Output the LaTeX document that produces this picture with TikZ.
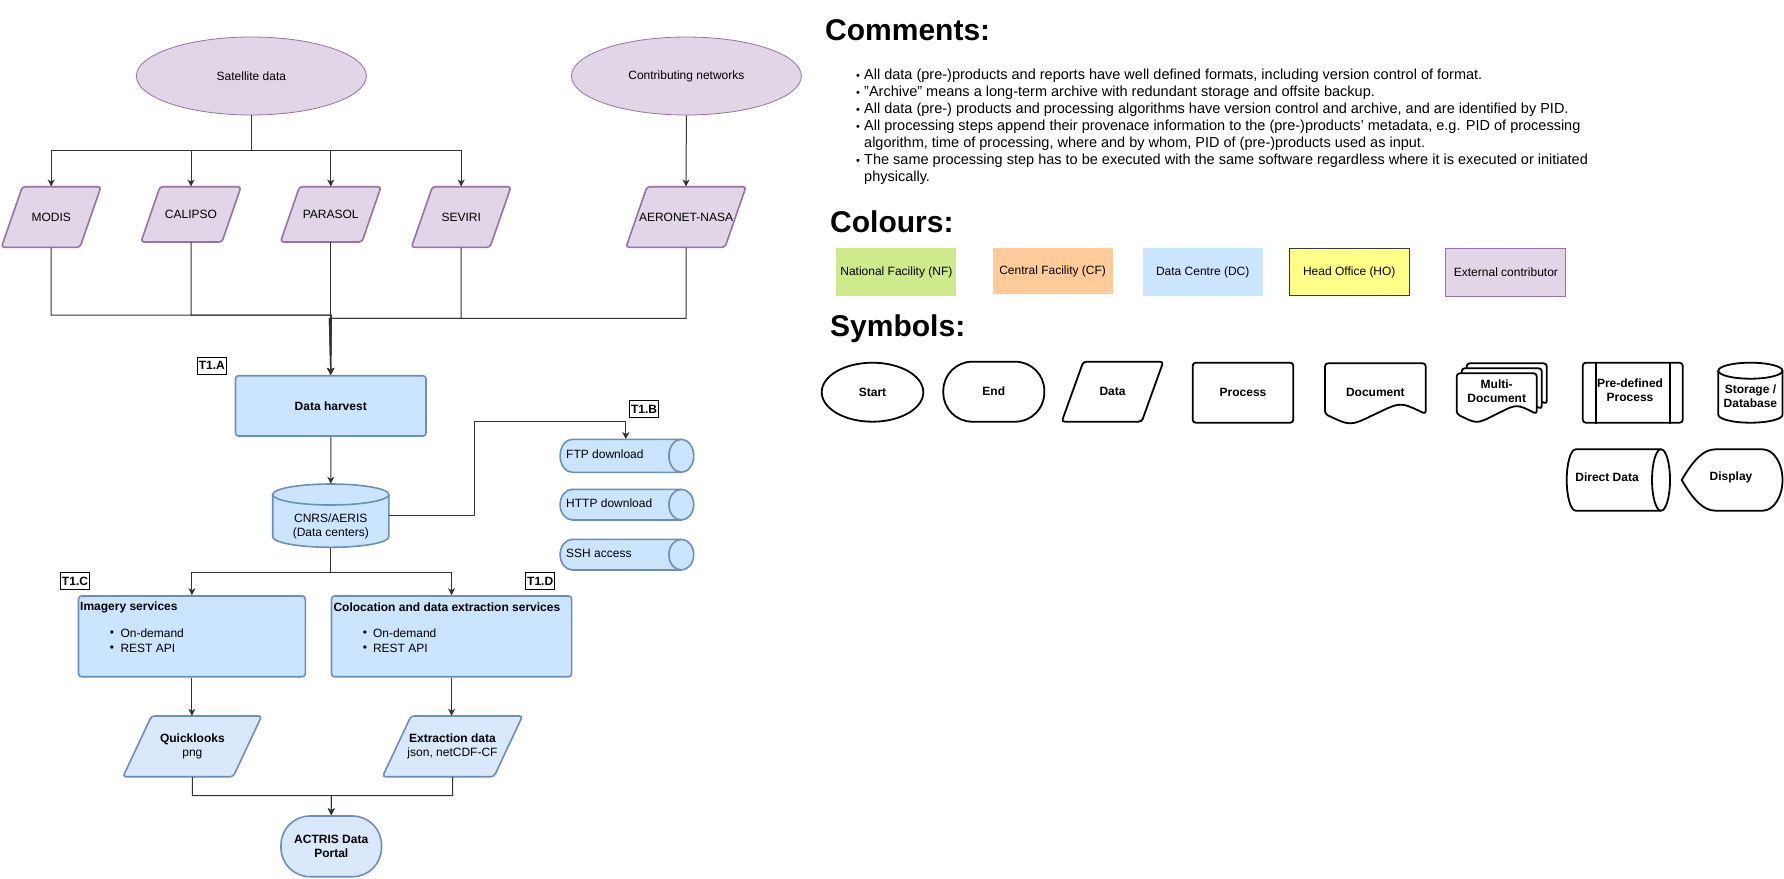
\documentclass[tikz,border=0pt]{standalone}
\usepackage{fontspec}
\setmainfont{Liberation Sans}
\usetikzlibrary{shapes.geometric,arrows.meta,calc}
\definecolor{purfill}{HTML}{E1D5E7}
\definecolor{purline}{HTML}{9673A6}
\definecolor{bluefill}{HTML}{CCE5FF}
\definecolor{bluefillb}{HTML}{DAE8FC}
\definecolor{blueline}{HTML}{6C8EBF}
\definecolor{nfgreen}{HTML}{CDEB8B}
\definecolor{cforange}{HTML}{FFCC99}
\definecolor{hoyellow}{HTML}{FFFF88}
\definecolor{hoedge}{HTML}{36393D}
% parallelogram: style, x0, y0, x1, y1, slant
\newcommand\shpPgram[6]{\path[#1] ({#2+#6},#3) -- (#4,#3) -- ({#4-#6},#5) -- (#2,#5) -- cycle;}
% vertical cylinder: style, x0, y0, x1, y1, rx, ry
\newcommand\shpCylV[7]{%
 \path[#1] (#2,{#3+#7}) -- (#2,{#5-#7}) arc[start angle=180,end angle=0,x radius=#6,y radius=#7] -- (#4,{#3+#7}) arc[start angle=0,end angle=-180,x radius=#6,y radius=#7] -- cycle;
 \path[#1,fill=none] (#2,{#3+#7}) arc[start angle=180,end angle=0,x radius=#6,y radius=#7];}
% horizontal cylinder: style, x0, y0, x1, y1, rx, ry
\newcommand\shpCylH[7]{%
 \path[#1] ({#2+#6},#3) -- ({#4-#6},#3) arc[start angle=-90,end angle=90,x radius=#6,y radius=#7] -- ({#2+#6},#5) arc[start angle=90,end angle=270,x radius=#6,y radius=#7] -- cycle;
 \path[#1,fill=none] ({#4-#6},#3) arc[start angle=-90,end angle=-270,x radius=#6,y radius=#7];}
% document: style, x0, y0, x1, yend, amplitude
\newcommand\shpDoc[6]{\path[#1] (#2,#3) -- (#4,#3) -- (#4,#5) .. controls ({#2+0.75*(#4-#2)},{#5-2*#6}) .. ({(#2+#4)/2},#5) .. controls ({#2+0.25*(#4-#2)},{#5+2*#6}) .. (#2,#5) -- cycle;}
% display: style, x0, y0, x1, y1, rx, ry
\newcommand\shpDisp[7]{\path[#1] (#2,{(#3+#5)/2}) .. controls ({#2+12},{#3+10}) and ({#2+22},#3) .. ({#2+34},#3) -- ({#4-#6},#3) arc[start angle=-90,end angle=90,x radius=#6,y radius=#7] -- ({#2+34},#5) .. controls ({#2+22},#5) and ({#2+12},{#5-10}) .. (#2,{(#3+#5)/2}) -- cycle;}
\begin{document}
\begin{tikzpicture}[x=1pt,y=-1pt,
  txt/.style={font=\fontsize{12}{14}\selectfont, inner sep=0pt, align=center},
  conn/.style={draw=black!80, line width=1pt, -{Stealth[length=7pt,width=7pt,inset=2pt]}},
  pshape/.style={draw=purline, fill=purfill, line width=1.6pt, rounded corners=3pt},
  pshapeb/.style={draw=blueline, fill=bluefillb, line width=1.6pt, rounded corners=3pt},
  cylshape/.style={draw=blueline, fill=bluefill, line width=1.6pt},
  bbox/.style={txt, draw=blueline, fill=bluefill, line width=1.6pt, rounded corners=3pt},
  bboxb/.style={txt, draw=blueline, fill=bluefillb, line width=1.6pt},
  ell/.style={txt, ellipse, draw=purline, fill=purfill, line width=0.8pt},
  tlab/.style={draw=black, fill=white, line width=0.8pt, inner sep=0pt, font=\fontsize{12}{14}\selectfont\bfseries, minimum width=29pt, minimum height=17pt},
  lbul/.style={font=\fontsize{12}{14}\selectfont, inner sep=0pt},
  ltext/.style={txt, anchor=west},
  head/.style={font=\fontsize{30}{36}\selectfont\bfseries, inner sep=0pt, anchor=base west},
  ctext/.style={font=\fontsize{14.5}{17}\selectfont, inner sep=0pt, anchor=base west},
  cbul/.style={font=\fontsize{11}{13}\selectfont, inner sep=0pt, anchor=base},
  cbox/.style={txt, minimum width=120pt},
  symshape/.style={draw=black, fill=white, line width=1.8pt, rounded corners=3pt},
  symcyl/.style={draw=black, fill=white, line width=1.8pt},
  symb/.style={txt, font=\fontsize{12}{14}\selectfont\bfseries, draw=black, fill=white, line width=1.8pt},
  symt/.style={txt, font=\fontsize{12}{14}\selectfont\bfseries},
]
\fill[white] (0,0) rectangle (1784,878);
\useasboundingbox (0,0) rectangle (1784,878);

% ---------- shapes drawn directly ----------
\shpPgram{pshape}{1.4}{186.7}{101}{247.3}{21}
\shpPgram{pshape}{141}{186.7}{241}{242}{19}
\shpPgram{pshape}{280.5}{186.7}{381}{242}{19}
\shpPgram{pshape}{411.4}{186.7}{511}{247.3}{21}
\shpPgram{pshape}{626}{186.7}{746}{247.3}{21}
\shpCylV{cylshape}{272.7}{484}{388.9}{547.3}{58.1}{10.5}
\shpCylH{cylshape}{560.1}{439.3}{693.7}{472.3}{12.4}{16.5}
\shpCylH{cylshape}{560.1}{489.3}{693.7}{520}{12.4}{15.35}
\shpCylH{cylshape}{560.1}{539.3}{693.7}{570}{12.4}{15.35}
\shpPgram{pshapeb}{123}{716}{261.7}{776.7}{28.5}
\shpPgram{pshapeb}{382.5}{716}{522.5}{776.7}{28.5}

% ---------- left flowchart nodes ----------
\node[ell, minimum width=230pt, minimum height=78pt] (sat) at (251.4,76) {Satellite data};
\node[ell, minimum width=230pt, minimum height=78pt] (contrib) at (686.4,76) {Contributing networks};
\node[txt, minimum width=99.6pt, minimum height=60.6pt] (modis) at (51.2,217) {MODIS};
\node[txt, minimum width=100pt, minimum height=55.3pt] (calipso) at (191,214.35) {CALIPSO};
\node[txt, minimum width=100.5pt, minimum height=55.3pt] (parasol) at (330.75,214.35) {PARASOL};
\node[txt, minimum width=99.6pt, minimum height=60.6pt] (seviri) at (461.2,217) {SEVIRI};
\node[txt, minimum width=120pt, minimum height=60.6pt] (aeronet) at (686,217) {AERONET-NASA};

\node[tlab] (t1a) at (211.9,365.8) {T1.A};
\node[bbox, minimum width=190.5pt, minimum height=60.3pt] (dh) at (330.75,405.85) {\bfseries Data harvest};

\node[txt, minimum width=116.2pt, minimum height=63.3pt] (cnrs) at (330.8,515.65) {};
\node[txt] (cnrstxt) at (330.8,526.3) {CNRS/AERIS\\(Data centers)};

\node[tlab] (t1b) at (644,409) {T1.B};
\node[txt, minimum width=133.6pt, minimum height=33pt] (ftp) at (626.9,455.8) {};
\node[ltext] (ftptxt) at (566,454) {FTP download};
\node[txt, minimum width=133.6pt, minimum height=30.7pt] (http) at (626.9,504.65) {};
\node[ltext] (httptxt) at (566,503) {HTTP download};
\node[txt, minimum width=133.6pt, minimum height=30.7pt] (ssh) at (626.9,554.65) {};
\node[ltext] (sshtxt) at (566,553) {SSH access};

\node[tlab] (t1c) at (75,581) {T1.C};
\node[tlab] (t1d) at (540.2,581) {T1.D};
\node[bbox, minimum width=226.8pt, minimum height=80.7pt] (img) at (191.9,636.35) {};
\node[ltext, font=\fontsize{12}{14}\selectfont\bfseries] (imgt) at (80,607.3) {Imagery services};
\node[lbul] (imgb1) at (112,633.7) {•};
\node[ltext] (imgo1) at (120.3,633.7) {On-demand};
\node[lbul] (imgb2) at (112,648.7) {•};
\node[ltext] (imgo2) at (120.3,648.7) {REST API};
\node[bbox, minimum width=240.1pt, minimum height=80.7pt] (col) at (451.55,636.35) {};
\node[ltext, font=\fontsize{12}{14}\selectfont\bfseries] (colt) at (333.3,607.3) {Colocation and data extraction services};
\node[lbul] (colb1) at (365,633.7) {•};
\node[ltext] (colo1) at (372.8,633.7) {On-demand};
\node[lbul] (colb2) at (365,648.7) {•};
\node[ltext] (colo2) at (372.8,648.7) {REST API};

\node[txt, minimum width=138.7pt, minimum height=60.7pt] (ql) at (192.35,746.35) {\textbf{Quicklooks}\\png};
\node[txt, minimum width=140pt, minimum height=60.7pt] (ex) at (452.5,746.35) {\textbf{Extraction data}\\json, netCDF-CF};
\node[bboxb, rounded corners=29pt, minimum width=100.5pt, minimum height=60.7pt] (actris) at (331.25,846.35) {\textbf{ACTRIS Data}\\\textbf{Portal}};

% ---------- connectors ----------
\coordinate (jl) at (331.5,315);
\coordinate (jr) at (329.3,318.3);
\coordinate (c2) at (625.8,421);
\coordinate (jb) at (331.5,795.7);
\draw[conn] (sat.south) -- ++(0,35) -| (modis.north);
\draw[conn] (sat.south) -- ++(0,35) -| (calipso.north);
\draw[conn] (sat.south) -- ++(0,35) -| (parasol.north);
\draw[conn] (sat.south) -- ++(0,35) -| (seviri.north);
\draw[conn] (contrib.south) -- (aeronet.north);
\draw[conn] (modis.south) |- (jl) -- (dh.north);
\draw[conn] (calipso.south) |- (jl) -- (dh.north);
\draw[conn] (parasol.south) -- (dh.north);
\draw[conn] (seviri.south) |- (jr) -- (dh.north);
\draw[conn] (aeronet.south) |- (jr) -- (dh.north);
\draw[conn] (dh.south) -- (cnrs.north);
\draw[conn] (cnrs.east) -- ++(85.4,0) |- (c2) -- (c2 |- ftp.north);
\draw[conn] (cnrs.south) -- ++(0,25.4) -| (img.north);
\draw[conn] (cnrs.south) -- ++(0,25.4) -| (col.north);
\draw[conn] (img.south) -- (img.south |- ql.north);
\draw[conn] (col.south) -- (col.south |- ex.north);
\draw[conn] (ql.south) |- (jb) -- (actris.north);
\draw[conn] (ex.south) |- (jb) -- (actris.north);

% ---------- comments ----------
\node[head] (hcom) at (825,40.7) {Comments:};
\node[cbul] (cb1) at (858,79.5) {•};
\node[ctext] (cm1) at (864,79.5) {All data (pre-)products and reports have well defined formats, including version control of format.};
\node[cbul] (cb2) at (858,96.5) {•};
\node[ctext] (cm2) at (864,96.5) {"Archive" means a long-term archive with redundant storage and offsite backup.};
\node[cbul] (cb3) at (858,113.5) {•};
\node[ctext] (cm3) at (864,113.5) {All data (pre-) products and processing algorithms have version control and archive, and are identified by PID.};
\node[cbul] (cb4) at (858,130.5) {•};
\node[ctext] (cm4) at (864,130.5) {All processing steps append their provenace information to the (pre-)products' metadata, e.g. PID of processing};
\node[ctext] (cm5) at (864,147.5) {algorithm, time of processing, where and by whom, PID of (pre-)products used as input.};
\node[cbul] (cb6) at (858,164.5) {•};
\node[ctext] (cm6) at (864,164.5) {The same processing step has to be executed with the same software regardless where it is executed or initiated};
\node[ctext] (cm7) at (864,181.5) {physically.};

% ---------- colours ----------
\node[head] (hcol) at (830,232.3) {Colours:};
\node[cbox, fill=nfgreen, minimum height=47.7pt] (cnf) at (896.35,272.15) {National Facility (NF)};
\node[cbox, fill=cforange, minimum height=45.7pt] (ccf) at (1052.65,271.15) {Central Facility (CF)};
\node[cbox, fill=bluefill, minimum height=47.7pt] (cdc) at (1202.7,272.15) {Data Centre (DC)};
\node[cbox, fill=hoyellow, draw=hoedge, line width=0.9pt, minimum height=47pt] (cho) at (1349.25,272.2) {Head Office (HO)};
\node[cbox, fill=purfill, draw=purline, line width=0.9pt, minimum height=48pt] (cext) at (1505.9,272.7) {External contributor};

% ---------- symbols ----------
\node[head] (hsym) at (830,336.7) {Symbols:};
\shpPgram{symshape}{1061.7}{361.7}{1163.3}{421.7}{21.6}
\shpDoc{symshape}{1325}{363.3}{1425.7}{414}{6}
\shpDoc{symshape}{1466.7}{363.3}{1546.7}{404}{5}
\shpDoc{symshape}{1461.7}{368.3}{1541.7}{409}{5}
\shpDoc{symshape}{1456.7}{373.3}{1536.7}{414}{5}
\shpCylV{symcyl}{1718.3}{362.7}{1782.5}{422.7}{32.1}{8}
\shpCylH{symcyl}{1566.7}{449.3}{1670}{510.7}{9}{30.7}
\shpDisp{symcyl}{1681.7}{449.3}{1782.5}{510.7}{20}{30.7}
\node[symb, ellipse, minimum width=101.6pt, minimum height=59pt] (sstart) at (872.5,392.2) {Start};
\node[symb, rounded corners=29pt, minimum width=101pt, minimum height=60pt] (send) at (993.8,391.7) {End};
\node[symt] (sdata) at (1112.5,391.7) {Data};
\node[symb, rounded corners=3pt, minimum width=100.6pt, minimum height=60pt] (sproc) at (1243,392.7) {Process};
\node[symt] (sdoc) at (1375.35,392) {Document};
\node[symt] (smulti) at (1496.7,391) {Multi-\\Document};
\node[symb, rounded corners=3pt, minimum width=100pt, minimum height=60pt] (spre) at (1632.7,392.7) {};
\draw[line width=1.8pt] ([xshift=14pt]spre.north west) -- ([xshift=14pt]spre.south west);
\draw[line width=1.8pt] ([xshift=-14pt]spre.north east) -- ([xshift=-14pt]spre.south east);
\node[symt] (spret) at (1630,390.3) {Pre-defined\\Process};
\node[symt] (sstor) at (1750.4,396.3) {Storage /\\Database};
\node[symt] (sdirect) at (1607,477.7) {Direct Data};
\node[symt] (sdisp) at (1731,477.7) {Display};
\end{tikzpicture}
\end{document}
